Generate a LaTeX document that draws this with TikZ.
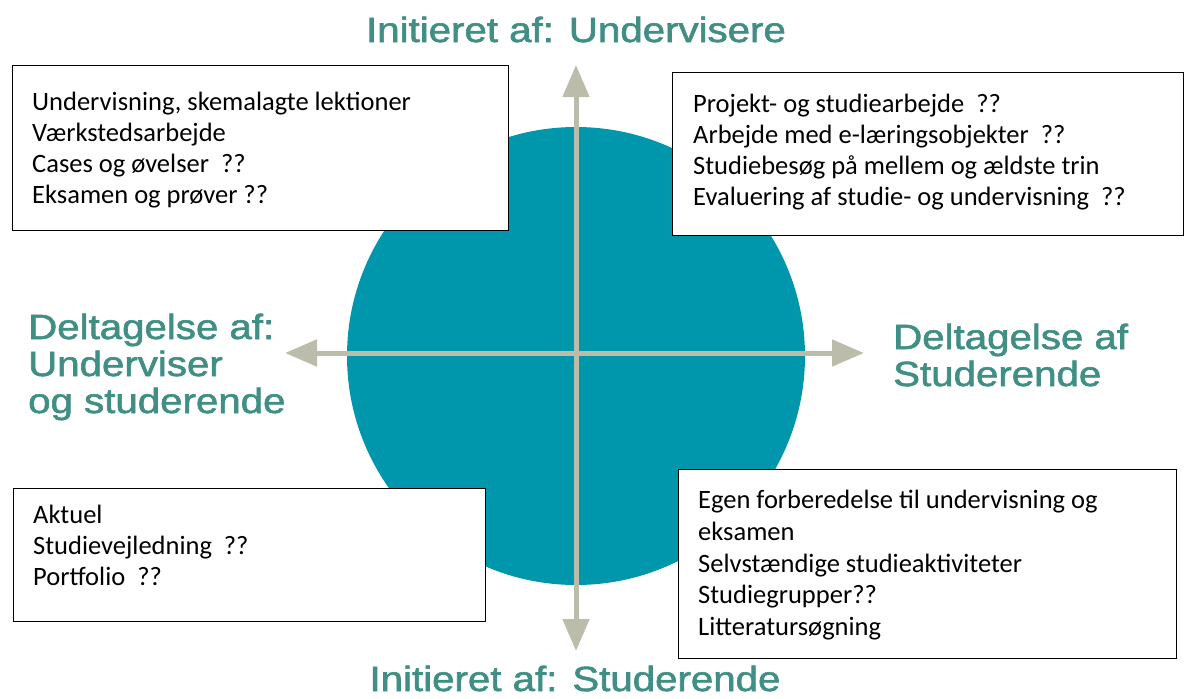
\documentclass[tikz,border=0pt]{standalone}
\usepackage{fontspec}
\setmainfont{Carlito}
\newfontfamily\labfont[FakeBold=1.6]{Liberation Sans}
\usetikzlibrary{arrows.meta}
\definecolor{teal1}{RGB}{0,150,172}
\definecolor{axis1}{RGB}{188,188,170}
\definecolor{labc}{RGB}{64,142,132}
\tikzset{
  itembox/.style={draw=black, line width=1.3pt, fill=white, rectangle, inner sep=0pt, anchor=north west},
  itemtext/.style={anchor=base west, inner sep=0pt, font=\fontsize{26.5}{31}\selectfont},
  biglab/.style={inner sep=0pt, text=labc, font=\labfont\fontsize{35}{37}\selectfont},
  axisarrow/.style={draw=axis1, line width=5pt, {Triangle[length=32pt,width=26pt]}-{Triangle[length=32pt,width=26pt]}}
}
\newcommand{\wide}[1]{\scalebox{1.15}[1]{#1}}
\begin{document}
\begin{tikzpicture}[x=1pt,y=-1pt]
\useasboundingbox (0,0) rectangle (1203,699);
% circle
\node[circle, fill=teal1, minimum size=458pt, inner sep=0pt] (disc) at (576,356) {};
% axes
\coordinate (top) at (576,65);
\coordinate (bot) at (576,651);
\coordinate (lft) at (285,353);
\coordinate (rgt) at (864,353);
\draw[axisarrow] (bot) -- (top);
\draw[axisarrow] (lft) -- (rgt);
% labels
\node[biglab, anchor=base] (ttop) at (576,42) {\wide{Initieret af: Undervisere}};
\node[biglab, anchor=base] (tbot) at (575,691) {\wide{Initieret af: Studerende}};
\node[biglab, anchor=base west] (tl1) at (28,339) {\wide{Deltagelse af:}};
\node[biglab, anchor=base west] (tl2) at (28,376) {\wide{Underviser}};
\node[biglab, anchor=base west] (tl3) at (28,413) {\wide{og studerende}};
\node[biglab, anchor=base west] (tr1) at (893,349) {\wide{Deltagelse af}};
\node[biglab, anchor=base west] (tr2) at (893,386) {\wide{Studerende}};
% boxes
\node[itembox, minimum width=496pt, minimum height=165pt] (box1) at (12,65) {};
\node[itembox, minimum width=511pt, minimum height=163pt] (box2) at (672,72) {};
\node[itembox, minimum width=472pt, minimum height=133pt] (box3) at (13,488) {};
\node[itembox, minimum width=498pt, minimum height=189pt] (box4) at (678,469) {};
% box 1 text
\node[itemtext] (a1) at (32,110) {Undervisning, skemalagte lektioner};
\node[itemtext] (a2) at (32,141) {Værkstedsarbejde};
\node[itemtext] (a3) at (32,172) {Cases og øvelser\ \ ??};
\node[itemtext] (a4) at (32,203) {Eksamen og prøver ??};
% box 2 text
\node[itemtext] (b1) at (693,112) {Projekt- og studiearbejde\ \ ??};
\node[itemtext] (b2) at (693,143) {Arbejde med e-læringsobjekter\ \ ??};
\node[itemtext] (b3) at (693,174) {Studiebesøg på mellem og ældste trin};
\node[itemtext] (b4) at (693,205) {Evaluering af studie- og undervisning\ \ ??};
% box 3 text
\node[itemtext] (c1) at (33,523) {Aktuel};
\node[itemtext] (c2) at (33,554) {Studievejledning\ \ ??};
\node[itemtext] (c3) at (33,585) {Portfolio\ \ ??};
% box 4 text
\node[itemtext] (d1) at (698,508) {Egen forberedelse til undervisning og};
\node[itemtext] (d2) at (698,540) {eksamen};
\node[itemtext] (d3) at (698,572) {Selvstændige studieaktiviteter};
\node[itemtext] (d4) at (698,603) {Studiegrupper??};
\node[itemtext] (d5) at (698,635) {Litteratursøgning};
\end{tikzpicture}
\end{document}
